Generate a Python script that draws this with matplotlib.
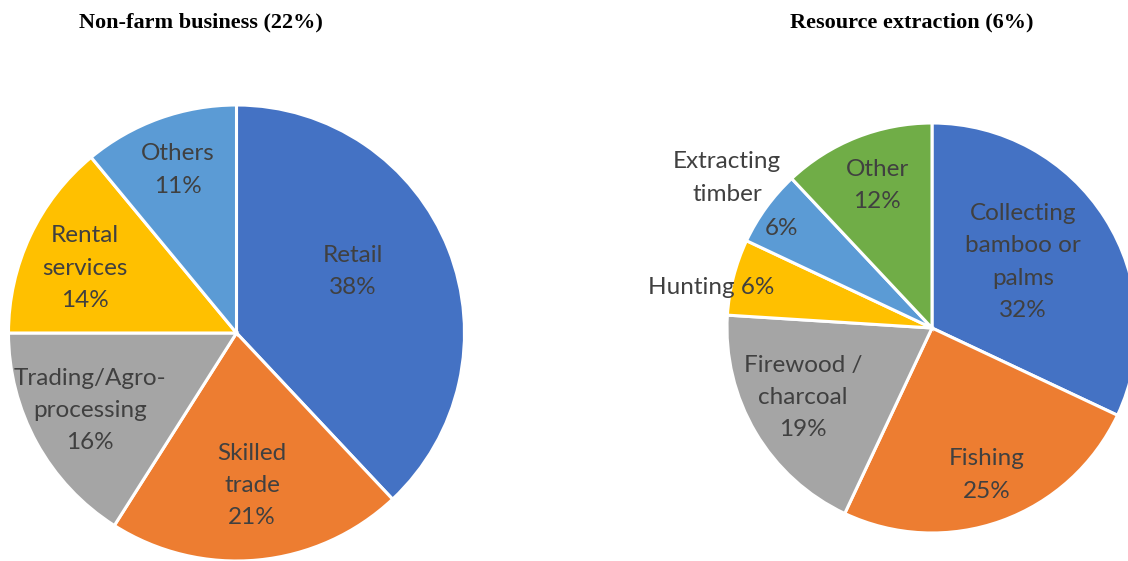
import matplotlib
matplotlib.use("Agg")
import matplotlib.pyplot as plt

# ---- data ----
left_title = "Non-farm business (22%)"
left_labels = ["Retail", "Skilled\ntrade", "Trading/Agro-\nprocessing", "Rental\nservices", "Others"]
left_values = [38, 21, 16, 14, 11]

right_title = "Resource extraction (6%)"
right_labels = ["Collecting\nbamboo or\npalms", "Fishing", "Firewood /\ncharcoal", "Hunting", "Extracting\ntimber", "Other"]
right_values = [32, 25, 19, 6, 6, 12]

# ---- styles / layout ----
W, H = 1128, 561
left_colors = ["#4472C4", "#ED7D31", "#A5A5A5", "#FFC000", "#5B9BD5"]
right_colors = ["#4472C4", "#ED7D31", "#A5A5A5", "#FFC000", "#5B9BD5", "#70AD47"]
label_color = "#404040"
label_font = "Lato"
label_size = 17.5
lsp = 1.65

fig = plt.figure(figsize=(W / 100, H / 100), dpi=100)
ax = fig.add_axes([0, 0, 1, 1])

def draw_pie(values, colors, cx, cy, r):
    wedges, _ = ax.pie(values, colors=colors, startangle=90, counterclock=False,
                       center=(cx, H - cy), radius=r,
                       wedgeprops=dict(edgecolor="white", linewidth=2.2))
    return wedges

lcx, lcy, lr = 236.5, 333, 228
rcx, rcy, rr = 932, 328, 205
draw_pie(left_values, left_colors, lcx, lcy, lr)
draw_pie(right_values, right_colors, rcx, rcy, rr)

# label offsets (fraction of radius) for each slice
left_off = [(0.511, 0.268), (0.068, -0.667), (-0.643, -0.338), (-0.664, 0.285), (-0.257, 0.715)]
for lab, v, (dx, dy) in zip(left_labels, left_values, left_off):
    ax.text(lcx + dx * lr, H - lcy + dy * lr, f"{lab}\n{v}%", ha="center", va="center",
            fontsize=label_size, family=label_font, color=label_color, linespacing=lsp)

right_off = [(0.444, 0.322), (0.268, -0.717), (-0.629, -0.337), (-1.078, 0.2), None, (-0.268, 0.693)]
for lab, v, off in zip(right_labels, right_values, right_off):
    if off is None:
        continue
    dx, dy = off
    txt = f"{lab} {v}%" if lab == "Hunting" else f"{lab}\n{v}%"
    ax.text(rcx + dx * rr, H - rcy + dy * rr, txt, ha="center", va="center",
            fontsize=label_size, family=label_font, color=label_color, linespacing=lsp)

# Extracting timber: name outside, percent inside
ax.text(727, H - 178, right_labels[4], ha="center", va="center",
        fontsize=label_size, family=label_font, color=label_color, linespacing=lsp)
ax.text(782, H - 228, f"{right_values[4]}%", ha="center", va="center",
        fontsize=label_size, family=label_font, color=label_color)

ax.text(201, H - 22, left_title, ha="center", va="center", fontsize=16,
        family="Liberation Serif", fontweight="bold", color="black")
ax.text(912, H - 22, right_title, ha="center", va="center", fontsize=16,
        family="Liberation Serif", fontweight="bold", color="black")

ax.set_xlim(0, W)
ax.set_ylim(0, H)
ax.set_aspect("auto")
ax.axis("off")
fig.savefig("out.png", dpi=100, facecolor="white")
